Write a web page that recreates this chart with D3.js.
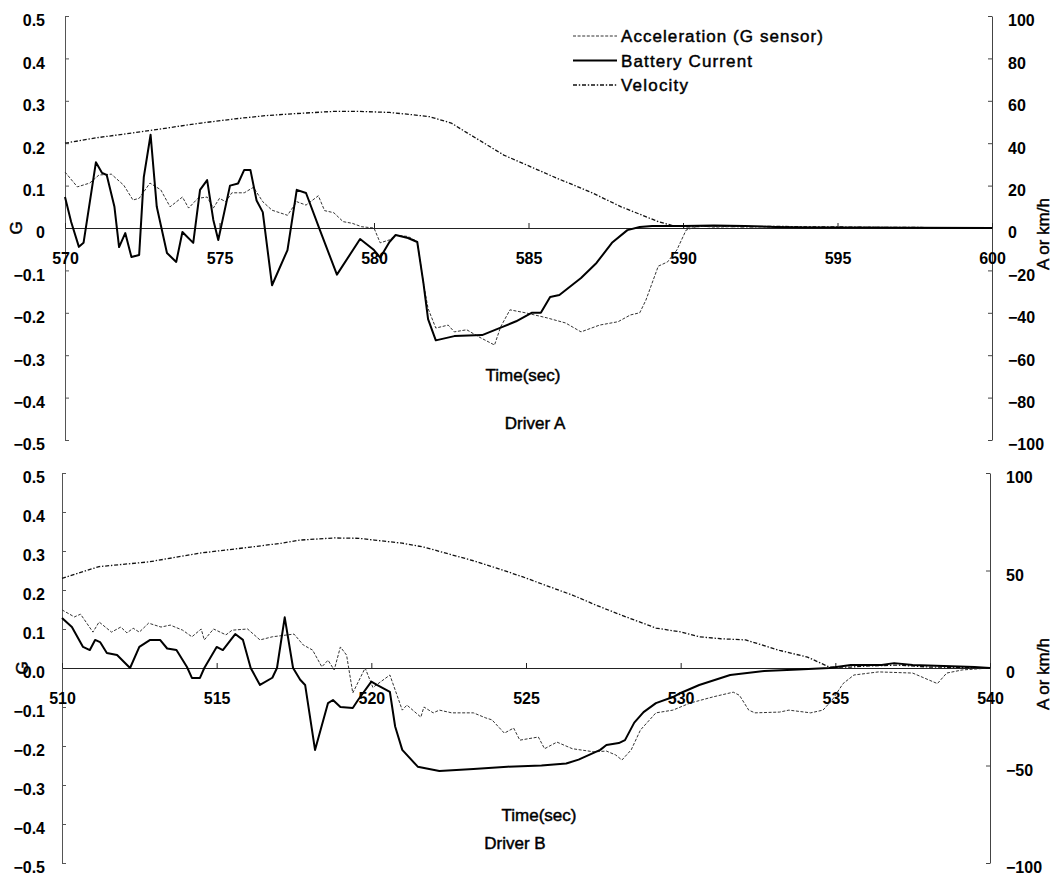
<!DOCTYPE html>
<html><head><meta charset="utf-8">
<script src="https://cdn.jsdelivr.net/npm/d3@7"></script>
<style>
html,body{margin:0;padding:0;background:#fff;}
svg text{font-family:"Liberation Sans",Arial,sans-serif;fill:#000;}
svg text.ttl{stroke:#000;stroke-width:0.45px;}
</style></head>
<body><svg id="chart" width="1056" height="878"></svg>
<script>
// ---------- DATA ----------
const seriesNames = ["Acceleration (G sensor)", "Battery Current", "Velocity"];
const panelTitles = ["Driver A", "Driver B"];
const xTitle = "Time(sec)";
const leftTitle = "G";
const rightTitle = "A or km/h";

// Driver A
const xTicksA = [570, 575, 580, 585, 590, 595, 600];
const gTicksA = [0.5, 0.4, 0.3, 0.2, 0.1, 0, -0.1, -0.2, -0.3, -0.4, -0.5];
const gLabelsA = ["0.5","0.4","0.3","0.2","0.1","0","\u22120.1","\u22120.2","\u22120.3","\u22120.4","\u22120.5"];
const rTicksA = [100, 80, 60, 40, 20, 0, -20, -40, -60, -80, -100];

const velTimeA = [570,571,572,572.75,574.4,575.5,576.5,577.5,578.7,579.5,580.5,581.2,581.8,582.5,583,583.4,584.2,584.8,585.9,587,588,589.2,589.7,590.2,591,592,593,594,595,596,597,598,599,600];
const velA     = [40,42.5,44.5,46,49.5,51.5,53,54,55,55,54.5,53.5,52.5,49.5,45,41.5,34.4,30.6,23.6,17,10,3,1,0.5,1,0.5,0.8,0.5,0.5,0.3,0.3,0.2,0.2,0];

const accTimeA = [570,570.4,570.8,571.1,571.5,571.9,572.2,572.4,572.75,573.1,573.4,573.8,574,574.3,574.6,574.8,575,575.2,575.4,575.8,576.1,576.4,576.7,577.2,577.5,577.8,578.2,578.4,578.7,579,579.3,579.6,580,580.2,580.5,580.7,581.1,581.4,581.6,581.75,582,582.4,582.6,583,583.4,583.9,584.1,584.4,584.9,585.6,586.2,586.7,587.3,587.9,588.3,588.6,588.8,589.2,589.5,589.8,590.1,590.5,591,592,593,594,595,596,597,598,599,600];
const accA     = [0.132,0.097,0.106,0.125,0.127,0.101,0.066,0.07,0.106,0.09,0.05,0.073,0.047,0.07,0.073,0.047,0.07,0.062,0.083,0.083,0.096,0.062,0.042,0.03,0.062,0.054,0.076,0.041,0.036,0.015,0.011,0.003,0.0,-0.035,-0.028,-0.017,-0.02,-0.032,-0.13,-0.19,-0.236,-0.229,-0.245,-0.24,-0.257,-0.276,-0.233,-0.193,-0.2,-0.212,-0.224,-0.245,-0.229,-0.221,-0.205,-0.2,-0.17,-0.09,-0.08,-0.052,-0.005,0.005,0.002,0.004,0.002,0.003,0.001,0.002,0.001,0,0.001,0];

const curTimeA = [570,570.2,570.45,570.6,571.0,571.2,571.35,571.6,571.75,571.95,572.15,572.4,572.55,572.77,572.97,573.3,573.6,573.8,574.15,574.37,574.6,574.8,574.96,575.34,575.6,575.8,576,576.2,576.4,576.7,577.2,577.5,577.8,578.25,578.8,579.55,580,580.2,580.5,580.7,581.1,581.4,581.6,581.75,582,582.6,583.5,584.1,584.6,585.1,585.4,585.7,586,586.7,587.2,587.7,588.2,588.6,589,590,591,592,593,594,595,600];
const curA     = [14.6,2.8,-8.9,-7,31,26,25,10,-9,-2.4,-13.7,-12.7,24,44,10,-11.8,-16,-1.9,-7,18,22.6,3.8,-5.7,20,21,27.4,27.4,13,7.5,-27,-10.4,18,16.5,-1,-22,-5.2,-10.4,-14,-6.6,-3.3,-4.7,-6.6,-26,-43,-53,-51,-50.5,-47,-44,-40,-40,-32.5,-31.6,-23.6,-16.5,-7,-1,0.5,1,1,1.2,1,0.5,0.2,0.2,0];

// Driver B
const xTicksB = [510, 515, 520, 525, 530, 535, 540];
const gTicksB = [0.5, 0.4, 0.3, 0.2, 0.1, 0, -0.1, -0.2, -0.3, -0.4, -0.5];
const gLabelsB = ["0.5","0.4","0.3","0.2","0.1","0.0","\u22120.1","\u22120.2","\u22120.3","\u22120.4","\u22120.5"];
const rTicksB = [100, 50, 0, -50, -100];

const velTimeB = [510,511.2,512.8,514.5,516.1,517.1,517.7,518.8,519.6,520.1,521,521.7,522.5,523.3,524.1,524.9,525.7,526.5,527.3,528.1,529.2,530,530.6,531.3,532.1,533.2,534.1,534.8,535.5,536,537,538,539,540];
const velB     = [46,52,54.4,59,62,64,65.6,66.7,66.5,65.6,64,62,58.5,55,51,46.7,42,37.4,32,27,20.5,18.5,16,15,14.4,9,5.6,0.5,0.5,1,1.5,0.5,0.3,0];

const accTimeB = [510,510.4,510.6,511,511.2,511.6,511.9,512.1,512.3,512.5,512.8,513.2,513.5,513.9,514.2,514.5,514.6,514.9,515.3,515.5,516,516.4,516.8,517.5,517.8,518.1,518.4,518.6,518.8,519,519.2,519.4,519.8,520.05,520.6,521,521.15,521.6,521.7,522,522.2,522.6,523.3,523.7,523.9,524.3,524.6,524.8,525.4,525.6,526,526.5,527.2,527.6,527.9,528.1,528.4,528.7,529.2,529.75,530.3,531.05,531.7,531.9,532.2,532.4,533.2,533.5,534.2,534.6,534.9,535.25,535.6,536.4,537.5,538.3,538.6,539.1,540];
const accB     = [0.149,0.131,0.138,0.092,0.118,0.092,0.105,0.09,0.102,0.092,0.115,0.105,0.11,0.097,0.08,0.1,0.072,0.1,0.085,0.097,0.1,0.072,0.08,0.087,0.059,0.046,0.003,0.02,-0.005,0.054,0.033,-0.064,0.0,-0.05,-0.018,-0.108,-0.095,-0.126,-0.1,-0.115,-0.108,-0.115,-0.115,-0.128,-0.133,-0.167,-0.154,-0.185,-0.177,-0.207,-0.19,-0.207,-0.215,-0.213,-0.223,-0.236,-0.21,-0.159,-0.115,-0.108,-0.09,-0.074,-0.062,-0.07,-0.108,-0.115,-0.113,-0.108,-0.115,-0.108,-0.082,-0.04,-0.018,-0.01,-0.013,-0.04,-0.013,-0.005,0];

const curTimeB = [510,510.32,510.68,510.9,511.07,511.23,511.45,511.78,512.2,512.5,512.85,513.17,513.4,513.7,514.04,514.2,514.46,514.6,515,515.2,515.6,515.85,516.1,516.4,516.8,516.95,517.2,517.47,517.7,517.86,518.18,518.6,518.76,519,519.4,519.57,520,520.18,520.6,520.77,521,521.5,522.2,523.3,524.4,525.5,526.3,526.7,527.4,527.6,528,528.2,528.5,528.8,529.2,529.75,530,530.6,531.6,532.7,533.8,534.8,535.5,536.5,536.9,537.5,538.5,539.5,540];
const curB     = [25.6,21,10.8,9.2,14.4,13.3,7.7,6.7,0,10.8,14.4,14.4,10,9.2,0.5,-5.1,-5.1,0,10.8,9.2,17.4,14.4,0,-8.7,-5,0,26,0,-6,-8.7,-42,-18,-16.4,-20,-20.5,-16.4,-7,-8.7,-12.3,-30,-42,-50.6,-52.8,-51.8,-50.6,-50,-49,-47,-42,-39.5,-38.5,-37,-28,-22.6,-18,-14.9,-12.8,-8.7,-3.6,-1.5,-0.8,0,1.5,1.5,2.5,1.5,1,0.5,0];

// ---------- DRAW ----------
const svg = d3.select("#chart");
const styles = {
  acc: {stroke:"#333", width:1, dash:"3,1.6"},
  cur: {stroke:"#000", width:2, dash:null},
  vel: {stroke:"#111", width:1.3, dash:"4,1.8,1.4,1.8"}
};

function zipPts(t, v){ return t.map((d,i)=>[d, v[i]]); }

function drawPanel(p){
  const g = svg.append("g");
  const x = d3.scaleLinear().domain(p.xDomain).range([p.x0, p.x1]);
  const yL = d3.scaleLinear().domain([-0.5,0.5]).range([p.yBot, p.yTop]);
  const yR = d3.scaleLinear().domain([-100,100]).range([p.yBot, p.yTop]);

  // left axis
  const la = g.append("g").attr("transform",`translate(${p.x0},0)`)
    .call(d3.axisLeft(yL).tickValues(p.gTicks).tickSize(-4).tickSizeOuter(0).tickPadding(p.lPad)
      .tickFormat((d,i)=>p.gLabels[i]));
  la.select(".domain").attr("stroke","#555");
  la.selectAll(".tick line").attr("stroke","#555");
  la.selectAll(".tick text").attr("font-size",16).attr("font-weight","bold").attr("dy","0.62em").attr("fill","#000");

  // right axis
  const ra = g.append("g").attr("transform",`translate(${p.x1},0)`)
    .call(d3.axisRight(yR).tickValues(p.rTicks).tickSize(-4).tickSizeOuter(0).tickPadding(16)
      .tickFormat(d=> d<0 ? "\u2212"+Math.abs(d) : String(d)));
  ra.select(".domain").attr("stroke","#444");
  ra.selectAll(".tick line").attr("stroke","#444");
  ra.selectAll(".tick text").attr("font-size",16).attr("font-weight","bold").attr("dy","0.62em").attr("fill","#000");

  // x axis at zero
  const xa = g.append("g").attr("transform",`translate(0,${yL(0)})`)
    .call(d3.axisBottom(x).tickValues(p.xTicks).tickSize(-5).tickSizeOuter(0).tickPadding(25).tickFormat(d3.format("d")));
  xa.select(".domain").attr("stroke","#222");
  xa.selectAll(".tick line").attr("stroke","#222");
  xa.selectAll(".tick text").attr("font-size",16).attr("font-weight","bold").attr("fill","#000");

  // series
  const line = (ys)=> d3.line().x(d=>x(d[0])).y(d=>ys(d[1]));
  const add = (pts, ys, st)=>{
    const path = g.append("path").datum(pts).attr("fill","none")
      .attr("stroke",st.stroke).attr("stroke-width",st.width)
      .attr("stroke-linejoin","round").attr("d", line(ys));
    if(st.dash) path.attr("stroke-dasharray", st.dash);
  };
  add(zipPts(p.velT, p.vel), yR, styles.vel);
  add(zipPts(p.accT, p.acc), yL, styles.acc);
  add(zipPts(p.curT, p.cur), yR, styles.cur);

  // titles
  g.append("text").attr("class","ttl").attr("x",p.xtX).attr("y",p.xtY).attr("text-anchor","middle")
    .attr("font-size",17).text(xTitle);
  g.append("text").attr("class","ttl").attr("x",p.dX).attr("y",p.dY).attr("text-anchor","middle")
    .attr("font-size",17).text(p.title);
  g.append("text").attr("class","ttl").attr("transform",`translate(${p.gX},${yL(0)}) rotate(-90)`)
    .attr("text-anchor","middle").attr("dy","0.35em").attr("font-size",17).text(leftTitle);
  g.append("text").attr("class","ttl").attr("transform",`translate(${p.rX},${p.rY}) rotate(-90)`)
    .attr("text-anchor","middle").attr("dy","0.35em").attr("font-size",17).text(rightTitle);
  return {x, yL, yR};
}

drawPanel({xDomain:[570,600], x0:65, x1:992, yTop:16, yBot:440, lPad:20,
  gTicks:gTicksA, gLabels:gLabelsA, rTicks:rTicksA, xTicks:xTicksA,
  velT:velTimeA, vel:velA, accT:accTimeA, acc:accA, curT:curTimeA, cur:curA,
  title:panelTitles[0], xtX:523, xtY:381, dX:535, dY:429, gX:16, rX:1043, rY:234});

drawPanel({xDomain:[510,540], x0:62, x1:990, yTop:473, yBot:863, lPad:17,
  gTicks:gTicksB, gLabels:gLabelsB, rTicks:rTicksB, xTicks:xTicksB,
  velT:velTimeB, vel:velB, accT:accTimeB, acc:accB, curT:curTimeB, cur:curB,
  title:panelTitles[1], xtX:539, xtY:821, dX:515, dY:849, gX:22, rX:1043, rY:674});

// legend (top panel)
const legKeys = ["acc","cur","vel"];
const legW = [202, 131, 67];
const leg = svg.append("g");
legKeys.forEach((k,i)=>{
  const yy = 36 + i*24.5;
  const st = styles[k];
  const l = leg.append("line").attr("x1",573).attr("x2",617).attr("y1",yy).attr("y2",yy)
    .attr("stroke",st.stroke).attr("stroke-width",st.width);
  if(st.dash) l.attr("stroke-dasharray", st.dash);
  leg.append("text").attr("class","ttl").attr("x",621).attr("y",yy).attr("dy","0.36em").attr("font-size",17)
    .attr("textLength",legW[i]).attr("lengthAdjust","spacing").text(seriesNames[i]);
});
</script></body></html>
